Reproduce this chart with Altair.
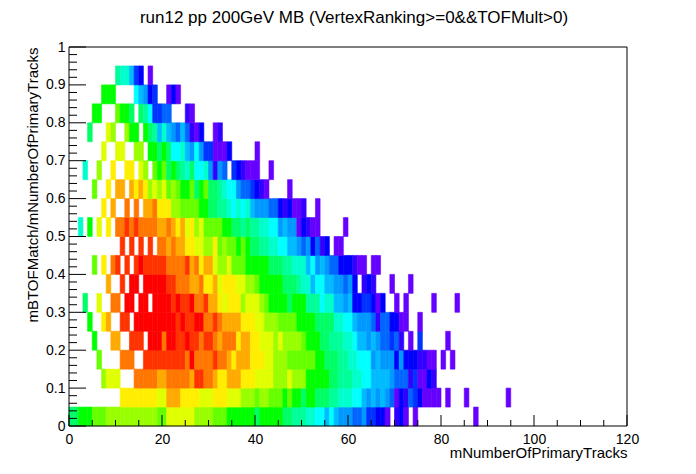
import altair as alt
import pandas as pd

TITLE = "run12 pp 200GeV MB (VertexRanking>=0&&TOFMult>0)"
X_TITLE = "mNumberOfPrimaryTracks"
Y_TITLE = "mBTOFMatch/mNumberOfPrimaryTracks"

# Colour level per level code (lowest to highest count)
LEVEL_CODES = list("abcdefghijklmnopqrst")
LEVEL_COLORS = ["#6600ff", "#3300ff", "#0000ff", "#0033ff", "#0066ff", "#0099ff", "#00bbff", "#00ffff",
                "#00ffcc", "#00ff99", "#00ff66", "#00ff00", "#66ff00", "#99ff00", "#e0ff00", "#ffee00",
                "#ffaa00", "#ff7700", "#ff3300", "#ff0000"]

# Each row is one y bin (width 0.05); each token is <first x bin><level codes of consecutive x bins>
ROW_00 = "0kklllmmmnnnnnnnnnnnmmoooooonnnnmmmllllllklllllkkjjjiihhghgfffeefddccc 68a 70bca 74a 87a"
ROW_01 = "11ppppppppooqqqppppoooppp 34ooonnnmnnmmmlmllkllkkkjjiiihhgfgfgfeacbedcaaaa 81a 85a 94a"
ROW_02 = "7nooo 14rrrrrqqrrrrrqssrrqppqqqpppoooonnnonnnlllllkkjjjiihhggggfeeebdaacb"
ROW_03 = "6m 11rrr 16sssssssssrtrrrrsrrqpqqqpppoonnnmmmmmmllkkkjjiihhhfgfffcfcccbbaa 80a 82a"
ROW_04 = "5l 9qq 13sss 17tttrttsstssrssrqrrrpqqppooononnnnmlllkkjjjiihggfgfeedeb 73a 75d 81a"
ROW_05 = "4l 7pq 11ss 14tttttttttstssttrrsrqqqqpppoonnnmmmmllllkkkkiihhgfffebeeccaa 75a"
ROW_06 = "3k 6o 9rr 12tt 15tt 18ttttstsstrrsqqpopppnooonmllllkllljjjhiiggfgccddcac 70a 72a 78a 83a"
ROW_07 = "8q 11s 13tt 16tttttssrrrqqrppqopppoonnmlllllkkkjiighhggffefc 63bcb 69a 73a"
ROW_08 = "5m 7p 9rs 12s 14stsssssrrrrsqrpqqonnommmlllllkkkjjiiighfgfeecccbaa 65aa"
ROW_09 = "11s 13s 15s 17s 19rrqrqqppoonnpmnmmlmlkkjjiihhggfefcebc 57aa"
ROW_10 = "2i 4l 6o 8p 10rrsrsrrrrqqrqpqopnommmmllkkjkjjiihhfgffacbaa 59a"
ROW_11 = "7p 9q 12r 14r 16qqrpppnnmmmmllkkjjihihigfffeecbcaab 53a"
ROW_12 = "5m 8p 10qq 13qpqpnonomnmllmklmkkjihhfeedcba 47a"
ROW_13 = "3i 6n 9p 12pp 15on 18mlmklkjikhhifbfe 35dcbaaa 43a"
ROW_14 = "7o 10oo 14nn 17llklkhhigfhfdd 31aaac 40a"
ROW_15 = "4k 8on 12nll 16lkjgigfegebac 31ab"
ROW_16 = "5ll 10mllk 15kjhddee 25ba"
ROW_17 = "7lll 14hgfcd 21aca"
ROW_18 = "10jii 13gdc 17a"
ROWS = [ROW_00, ROW_01, ROW_02, ROW_03, ROW_04, ROW_05, ROW_06, ROW_07, ROW_08, ROW_09,
        ROW_10, ROW_11, ROW_12, ROW_13, ROW_14, ROW_15, ROW_16, ROW_17, ROW_18]

X_LABELS = [0, 20, 40, 60, 80, 100, 120]
Y_LABELS = [0, 0.1, 0.2, 0.3, 0.4, 0.5, 0.6, 0.7, 0.8, 0.9, 1]
X_MINOR = [v for v in range(0, 121, 5) if v % 20]
Y_MINOR = [round(v * 0.02, 2) for v in range(51) if v % 5]

FONT = "Liberation Sans"
W, H = 558, 379


def parse_row(text):
    out = []
    for token in text.split():
        digits = "".join(c for c in token if c.isdigit())
        col = int(digits)
        for c in token[len(digits):]:
            out.append((col, c))
            col += 1
    return out


recs = []
for k, row in enumerate(ROWS):
    for col, code in parse_row(row):
        recs.append({"x": col, "x2": col + 1, "y": k * 0.05, "y2": (k + 1) * 0.05, "lvl": code})
cells = pd.DataFrame(recs)

xs = alt.Scale(domain=[0, 120], nice=False, zero=False)
ys = alt.Scale(domain=[0, 1], nice=False, zero=False)
color = alt.Scale(domain=LEVEL_CODES, range=LEVEL_COLORS)

x_axis = alt.Axis(
    values=X_LABELS, format="d", title=X_TITLE, grid=False, ticks=False, domain=False,
    labelFont=FONT, labelFontSize=14, labelColor="black", labelPadding=6, labelFlush=False,
    labelOverlap=False,
    titleFont=FONT, titleFontSize=15, titleFontWeight="normal", titleColor="black",
    titleAlign="right", titleBaseline="alphabetic", titleX=W, titleY=31)
y_axis = alt.Axis(
    values=Y_LABELS, format="~g", title=Y_TITLE, grid=False, ticks=False, domain=False,
    labelFont=FONT, labelFontSize=14, labelColor="black", labelPadding=4, labelFlush=False,
    labelOverlap=False,
    titleFont=FONT, titleFontSize=15, titleFontWeight="normal", titleColor="black",
    titleAlign="right", titleBaseline="alphabetic", titleX=-32, titleY=0)

heat = alt.Chart(cells).mark_rect(strokeWidth=0.6).encode(
    x=alt.X("x:Q", scale=xs, axis=x_axis),
    x2="x2:Q",
    y=alt.Y("y:Q", scale=ys, axis=y_axis),
    y2="y2:Q",
    color=alt.Color("lvl:N", scale=color, legend=None),
    stroke=alt.Stroke("lvl:N", scale=color, legend=None),
)

xt_major = alt.Chart(pd.DataFrame({"v": X_LABELS})).mark_rule(color="black", strokeWidth=1).encode(
    x=alt.X("v:Q", scale=xs, axis=x_axis), y=alt.value(H), y2=alt.value(H - 11))
xt_minor = alt.Chart(pd.DataFrame({"v": X_MINOR})).mark_rule(color="black", strokeWidth=1).encode(
    x=alt.X("v:Q", scale=xs, axis=x_axis), y=alt.value(H), y2=alt.value(H - 6))
yt_major = alt.Chart(pd.DataFrame({"v": Y_LABELS})).mark_rule(color="black", strokeWidth=1).encode(
    y=alt.Y("v:Q", scale=ys, axis=y_axis), x=alt.value(0), x2=alt.value(17))
yt_minor = alt.Chart(pd.DataFrame({"v": Y_MINOR})).mark_rule(color="black", strokeWidth=1).encode(
    y=alt.Y("v:Q", scale=ys, axis=y_axis), x=alt.value(0), x2=alt.value(8))

frame_h = alt.Chart(pd.DataFrame({"v": [0, 1]})).mark_rule(color="black", strokeWidth=1).encode(
    y=alt.Y("v:Q", scale=ys, axis=y_axis), x=alt.value(0), x2=alt.value(W))
frame_v = alt.Chart(pd.DataFrame({"v": [0, 120]})).mark_rule(color="black", strokeWidth=1).encode(
    x=alt.X("v:Q", scale=xs, axis=x_axis), y=alt.value(0), y2=alt.value(H))

chart = alt.layer(heat, xt_major, xt_minor, yt_major, yt_minor, frame_h, frame_v).properties(
    width=W, height=H,
    title=alt.TitleParams(TITLE, font=FONT, fontSize=17, fontWeight="normal", color="black",
                          anchor="middle", dx=6, offset=13),
    autosize=alt.AutoSizeParams(type="none"),
    padding={"left": 61, "top": 39, "right": 61, "bottom": 40},
    background="white",
).configure_view(stroke=None)

chart.save("out.html", embed_options={"renderer": "svg", "actions": False})
